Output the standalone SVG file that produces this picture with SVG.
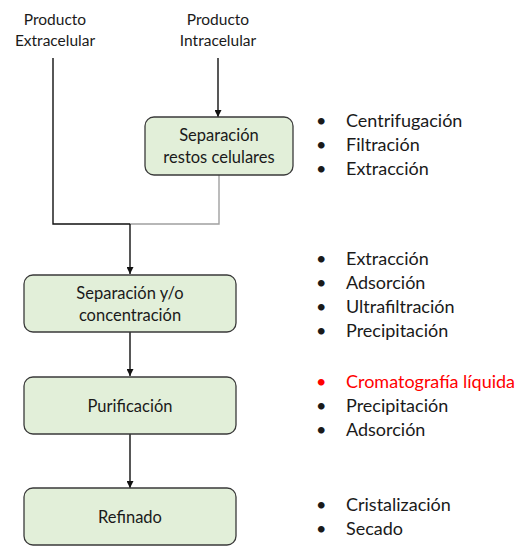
<svg xmlns="http://www.w3.org/2000/svg" width="530" height="555" viewBox="0 0 530 555">
<defs>
<style>
text{font-family:Lato,"Open Sans","Liberation Sans",sans-serif;fill:#1a1a1a}
.lbl{font-size:15.5px;text-anchor:middle}
.bl{font-size:16.5px;text-anchor:middle}
.li{font-size:18px}
.box{fill:#e2efd9;stroke:#3a3a3a;stroke-width:1.3}
.ln{fill:none;stroke:#111;stroke-width:1.4}
.gr{fill:none;stroke:#a0a0a0;stroke-width:1.4}
.red{fill:#ff0000}
</style>
<marker id="ah" viewBox="0 0 10 10" refX="10" refY="5" markerWidth="7" markerHeight="7" orient="auto" markerUnits="userSpaceOnUse">
<path d="M0,0 L10,5 L0,10 z" fill="#111"/>
</marker>
</defs>
<rect width="530" height="555" fill="#fff"/>
<g id="connectors">
<path class="ln" d="M53,58 V224 H130"/>
<path class="gr" d="M219,175 V224 H130"/>
<path class="ln" d="M130,224 V274" marker-end="url(#ah)"/>
<path class="ln" d="M218,58 V117" marker-end="url(#ah)"/>
<path class="ln" d="M130,332 V376" marker-end="url(#ah)"/>
<path class="ln" d="M130,434 V488" marker-end="url(#ah)"/>
</g>
<g id="src-extra">
<text class="lbl" x="55" y="25">Producto</text>
<text class="lbl" x="55" y="46">Extracelular</text>
</g>
<g id="src-intra">
<text class="lbl" x="218" y="25">Producto</text>
<text class="lbl" x="218" y="46">Intracelular</text>
</g>
<g id="n-restos">
<rect class="box" x="145" y="117" width="148" height="58" rx="9"/>
<text class="bl" x="219" y="141">Separación</text>
<text class="bl" x="219" y="163">restos celulares</text>
</g>
<g id="n-sep">
<rect class="box" x="24" y="275" width="212" height="57" rx="9"/>
<text class="bl" x="130" y="299">Separación y/o</text>
<text class="bl" x="130" y="321">concentración</text>
</g>
<g id="n-pur">
<rect class="box" x="24" y="377" width="212" height="57" rx="9"/>
<text class="bl" x="130" y="412">Purificación</text>
</g>
<g id="n-ref">
<rect class="box" x="24" y="488" width="212" height="57" rx="9"/>
<text class="bl" x="130" y="523">Refinado</text>
</g>
<g id="list1">
<text class="li" x="316" y="127">•</text><text class="li" x="346" y="127">Centrifugación</text>
<text class="li" x="316" y="151">•</text><text class="li" x="346" y="151">Filtración</text>
<text class="li" x="316" y="175">•</text><text class="li" x="346" y="175">Extracción</text>
</g>
<g id="list2">
<text class="li" x="316" y="265">•</text><text class="li" x="346" y="265">Extracción</text>
<text class="li" x="316" y="289">•</text><text class="li" x="346" y="289">Adsorción</text>
<text class="li" x="316" y="313">•</text><text class="li" x="346" y="313">Ultrafiltración</text>
<text class="li" x="316" y="337">•</text><text class="li" x="346" y="337">Precipitación</text>
</g>
<g id="list3">
<text class="li red" x="316" y="388">•</text><text class="li red" x="346" y="388">Cromatografía líquida</text>
<text class="li" x="316" y="412">•</text><text class="li" x="346" y="412">Precipitación</text>
<text class="li" x="316" y="436">•</text><text class="li" x="346" y="436">Adsorción</text>
</g>
<g id="list4">
<text class="li" x="316" y="511">•</text><text class="li" x="346" y="511">Cristalización</text>
<text class="li" x="316" y="535">•</text><text class="li" x="346" y="535">Secado</text>
</g>
</svg>
